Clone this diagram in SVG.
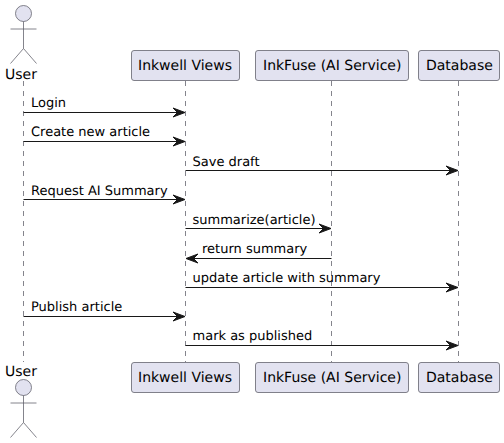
<svg xmlns="http://www.w3.org/2000/svg" width="504" height="443" viewBox="0 0 504 443">
<style>
text{font-family:"DejaVu Sans",sans-serif;fill:#000;text-rendering:geometricPrecision}
.p{font-size:14px}
.m{font-size:13px}
.box{fill:#E2E2F0;stroke:#5B5B66;stroke-width:.75}
.life{stroke:#5B5B66;stroke-width:.75;stroke-dasharray:5 5;fill:none}
.msg{stroke:#181818;stroke-width:1;fill:none}
.head{fill:#181818;stroke:#181818;stroke-width:1}
.actor{fill:none;stroke:#5B5B66;stroke-width:.75}
.hd{fill:#E2E2F0;stroke:#5B5B66;stroke-width:.75}
</style>
<defs>
<path id="ar" class="head" d="M0 0L-12-4.500L-7.500 0L-12 4.500Z"/>
<path id="al" class="head" d="M0 0L12-4.500L7.500 0L12 4.500Z"/>
</defs>
<g id="lifelines">
<line class="life" x1="23.5" y1="81" x2="23.5" y2="362"/>
<line class="life" x1="185.5" y1="81" x2="185.5" y2="362"/>
<line class="life" x1="331.5" y1="81" x2="331.5" y2="362"/>
<line class="life" x1="458.5" y1="81" x2="458.5" y2="362"/>
</g>
<g id="user-top">
<circle class="hd" cx="23.5" cy="13.5" r="8"/>
<path class="actor" d="M23.5 21.500V48.500M10.500 29H36.500M23.500 48.500L10.500 63.500M23.500 48.500L36.500 63.500"/>
<text class="p" x="5" y="78.500">User</text>
</g>
<g id="inkwell-top"><rect class="box" x="131.500" y="50.500" width="108" height="30" rx="2.500"/><text class="p" x="138" y="70">Inkwell Views</text></g>
<g id="inkfuse-top"><rect class="box" x="255.500" y="50.500" width="153" height="30" rx="2.500"/><text class="p" x="263" y="70">InkFuse (AI Service)</text></g>
<g id="database-top"><rect class="box" x="418.500" y="50.500" width="81" height="30" rx="2.500"/><text class="p" x="426" y="70">Database</text></g>
<g id="user-bottom">
<text class="p" x="5" y="375.500">User</text>
<circle class="hd" cx="23.5" cy="387.500" r="8"/>
<path class="actor" d="M23.5 395.500V422.500M10.500 403H36.500M23.500 422.500L10.500 437.500M23.500 422.500L36.500 437.500"/>
</g>
<g id="inkwell-bottom"><rect class="box" x="131.500" y="362.500" width="108" height="30" rx="2.500"/><text class="p" x="138" y="382">Inkwell Views</text></g>
<g id="inkfuse-bottom"><rect class="box" x="255.500" y="362.500" width="153" height="30" rx="2.500"/><text class="p" x="263" y="382">InkFuse (AI Service)</text></g>
<g id="database-bottom"><rect class="box" x="418.500" y="362.500" width="81" height="30" rx="2.500"/><text class="p" x="426" y="382">Database</text></g>
<g id="connectors">
<line class="msg" x1="23.500" y1="112.500" x2="178" y2="112.500"/><use href="#ar" x="185" y="112.500"/>
<line class="msg" x1="23.500" y1="141.500" x2="178" y2="141.500"/><use href="#ar" x="185" y="141.500"/>
<line class="msg" x1="185.500" y1="170.500" x2="451" y2="170.500"/><use href="#ar" x="458" y="170.500"/>
<line class="msg" x1="23.500" y1="199.500" x2="178" y2="199.500"/><use href="#ar" x="185" y="199.500"/>
<line class="msg" x1="185.500" y1="228.500" x2="324" y2="228.500"/><use href="#ar" x="331" y="228.500"/>
<line class="msg" x1="193" y1="258.500" x2="331.500" y2="258.500"/><use href="#al" x="186" y="258.500"/>
<line class="msg" x1="185.500" y1="287.500" x2="451" y2="287.500"/><use href="#ar" x="458" y="287.500"/>
<line class="msg" x1="23.500" y1="316.500" x2="178" y2="316.500"/><use href="#ar" x="185" y="316.500"/>
<line class="msg" x1="185.500" y1="345.500" x2="451" y2="345.500"/><use href="#ar" x="458" y="345.500"/>
</g>
<g id="labels">
<text class="m" x="31" y="107">Login</text>
<text class="m" x="31" y="136">Create new article</text>
<text class="m" x="192.500" y="165.500">Save draft</text>
<text class="m" x="31" y="194.500">Request AI Summary</text>
<text class="m" x="192.500" y="223.500">summarize(article)</text>
<text class="m" x="202" y="253">return summary</text>
<text class="m" x="192.500" y="282">update article with summary</text>
<text class="m" x="31" y="311">Publish article</text>
<text class="m" x="192.500" y="340">mark as published</text>
</g>
</svg>
